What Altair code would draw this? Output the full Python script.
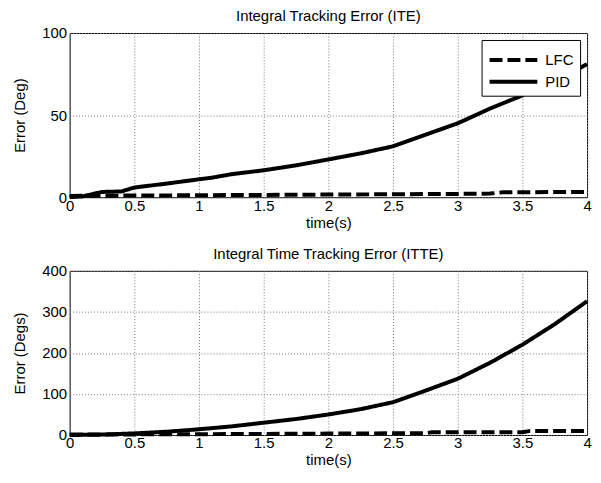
import altair as alt
import pandas as pd

# ITE (top panel)
ite_pid_t = [0, 0.1, 0.25, 0.4, 0.5, 0.75, 1.0, 1.1, 1.25, 1.5, 1.75, 2.0, 2.25, 2.5, 2.75, 3.0, 3.25, 3.5, 3.75, 4.0]
ite_pid_v = [0, 0.5, 3.2, 3.5, 5.9, 8.3, 10.9, 11.9, 14, 16.4, 19.4, 23, 26.7, 31, 38, 45, 54, 62, 71, 81]
ite_lfc_t = [0, 1.0, 2.0, 3.0, 3.25, 3.35, 4.0]
ite_lfc_v = [0.8, 1.2, 1.6, 2.0, 2.2, 3.0, 3.2]

# ITTE (bottom panel)
itte_pid_t = [0, 0.25, 0.5, 0.75, 1.0, 1.25, 1.5, 1.75, 2.0, 2.25, 2.5, 2.75, 3.0, 3.25, 3.5, 3.75, 4.0]
itte_pid_v = [0, 1, 4, 8, 14, 21, 30, 39, 50, 63, 80, 108, 137, 176, 220, 270, 326]
itte_lfc_t = [0, 1.0, 2.0, 2.75, 2.8, 3.5, 3.55, 4.0]
itte_lfc_v = [1, 2, 3.5, 4.5, 6.5, 7, 9.5, 10]

x_ticks = [0, 0.5, 1, 1.5, 2, 2.5, 3, 3.5, 4]
series = ["LFC", "PID"]

def table(lfc_t, lfc_v, pid_t, pid_v):
    rows = [{"t": a, "v": b, "s": "LFC"} for a, b in zip(lfc_t, lfc_v)]
    rows += [{"t": a, "v": b, "s": "PID"} for a, b in zip(pid_t, pid_v)]
    return pd.DataFrame(rows)

ite = table(ite_lfc_t, ite_lfc_v, ite_pid_t, ite_pid_v)
itte = table(itte_lfc_t, itte_lfc_v, itte_pid_t, itte_pid_v)

FONT = "Liberation Sans"
W, H = 520, 165

def xaxis():
    return alt.X("t:Q", scale=alt.Scale(domain=[0, 4], nice=False),
                 axis=alt.Axis(values=x_ticks, title="time(s)", format="~g",
                               labelFlush=False))

def panel(df, title, ytitle, ydom, yvals, legend):
    return alt.Chart(df, title=alt.Title(title, fontSize=15, font=FONT, fontWeight="normal",
                                          color="black", offset=2,
                                          frame="group")).mark_line(
        color="black", strokeWidth=4, interpolate="linear"
    ).encode(
        x=xaxis(),
        y=alt.Y("v:Q", scale=alt.Scale(domain=ydom, nice=False),
                axis=alt.Axis(values=yvals, title=ytitle)),
        strokeDash=alt.StrokeDash("s:N", scale=alt.Scale(domain=series, range=[[13, 5], [1, 0]]),
                                  legend=legend),
        detail="s:N",
    ).properties(width=W, height=H)

leg = alt.Legend(title=None, orient="none", legendX=414, legendY=7,
                 strokeColor="black", fillColor="white", padding=6,
                 labelFontSize=15, labelFont=FONT, labelColor="black",
                 symbolType="M-1,0L3,0", symbolSize=576, symbolStrokeWidth=4,
                 symbolStrokeColor="black", labelOffset=30, rowPadding=0, cornerRadius=0)

top = panel(ite, "Integral Tracking Error (ITE)", "Error (Deg)", [0, 100], [0, 50, 100], leg)
bot = panel(itte, "Integral Time Tracking Error (ITTE)", "Error (Degs)", [0, 400], [0, 100, 200, 300, 400], None)

chart = alt.vconcat(top, bot, spacing=74, bounds="flush").resolve_scale(
    strokeDash="independent"
).resolve_legend(strokeDash="independent").properties(
    padding={"left": 12, "top": 7, "right": 5, "bottom": 5}
).configure_view(
    stroke="black", strokeWidth=1
).configure_axis(
    labelFont=FONT, titleFont=FONT, labelFontSize=15, titleFontSize=15,
    labelColor="black", titleColor="black", titleFontWeight="normal",
    grid=True, gridColor="#777777", gridDash=[1, 2], gridWidth=1,
    domain=False, ticks=False, labelPadding=1,
).configure_axisX(
    titlePadding=2
).configure_axisY(
    titlePadding=14, labelPadding=3
)

chart.save("out.html", embed_options={"renderer": "svg", "actions": False})
